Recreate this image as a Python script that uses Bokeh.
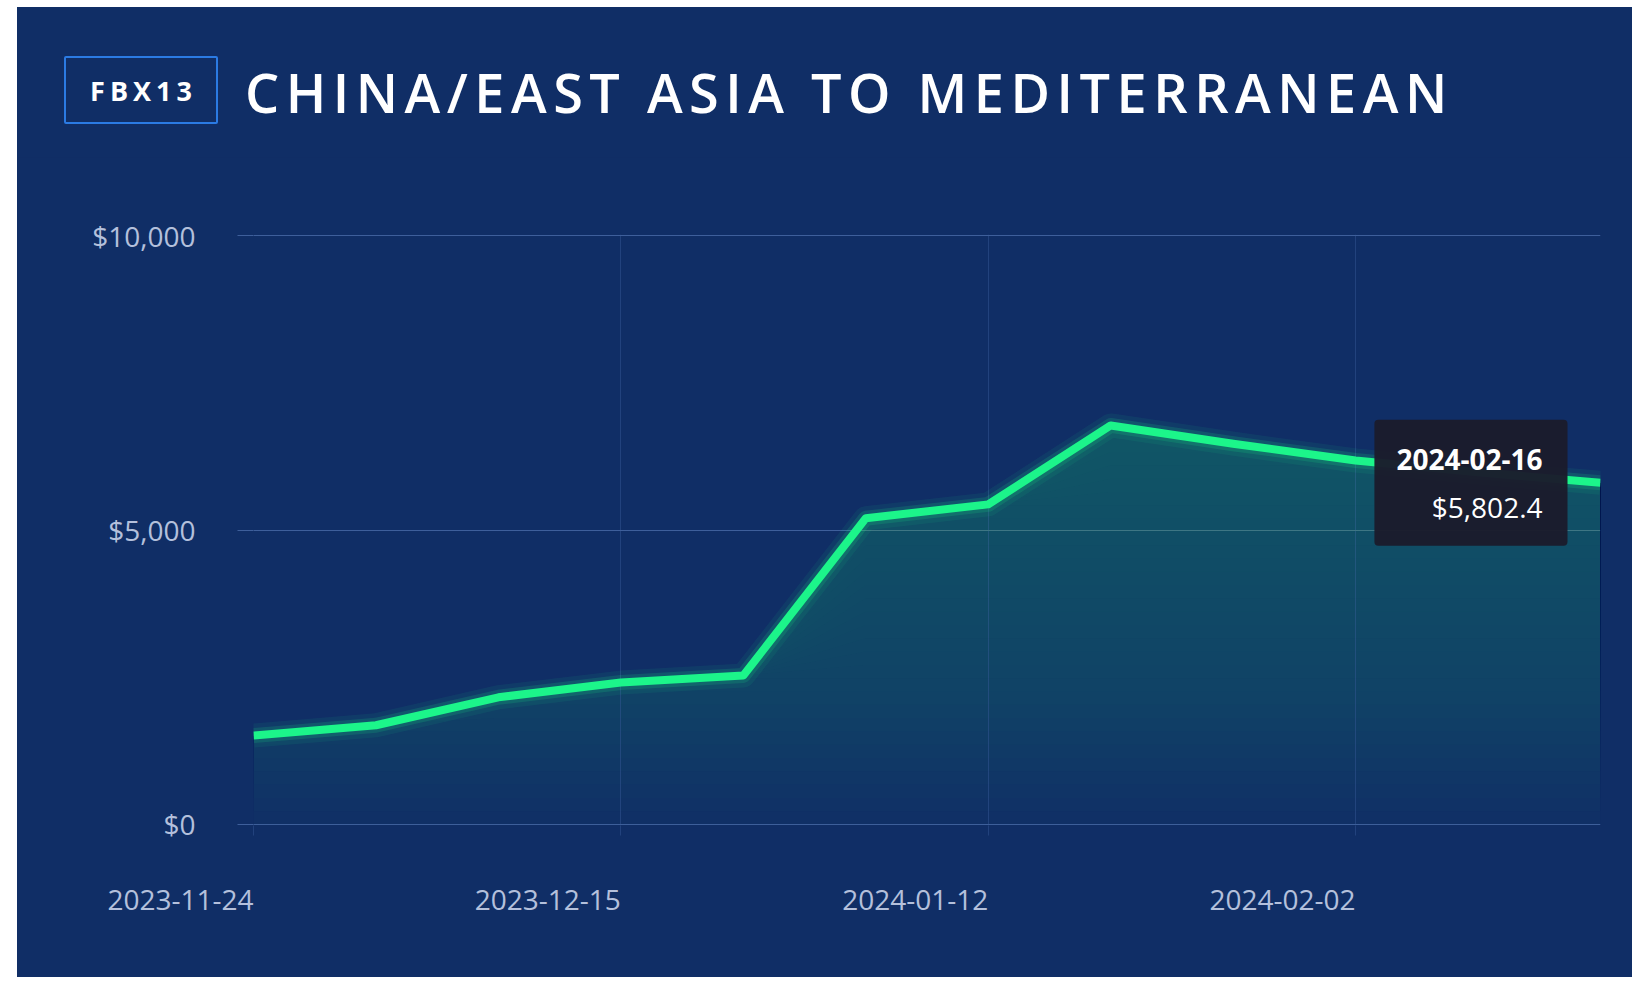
import numpy as np
from bokeh.plotting import figure
from bokeh.models import Range1d, FixedTicker, NumeralTickFormatter, Label, Div
from bokeh.layouts import column
from bokeh.embed import file_html
from bokeh.resources import INLINE

# ---------------- data ----------------
dates = ["2023-11-24", "2023-12-01", "2023-12-08", "2023-12-15", "2023-12-22",
         "2024-01-05", "2024-01-12", "2024-01-19", "2024-01-26", "2024-02-02",
         "2024-02-09", "2024-02-16"]
rates = [1510, 1685, 2160, 2410, 2530, 5200, 5435, 6775, 6465, 6180, 5980, 5802.4]
x_tick_labels = ["2023-11-24", "2023-12-15", "2024-01-12", "2024-02-02"]
y_ticks = [0, 5000, 10000]
index_code = "FBX13"
title_text = "CHINA/EAST ASIA TO MEDITERRANEAN"

# ---------------- style ----------------
NAVY = "#102e66"
GREEN = "#1cf58a"
FILL = "#22b981"
HGRID = "#3e5f9b"
VGRID = "#22427d"
TICK_TXT = "#b4c0dc"
FONT = "Open Sans"
W = 1615
HEAD_H = 150
FIG_H = 820
EDGE_PAD = 17  # one pixel of headroom so the $0 / $10,000 grid lines are not clipped

header_html = f"""
<div style="position:relative;width:{W}px;height:{HEAD_H}px;">
  <div style="position:absolute;left:47px;top:49px;width:145px;height:64px;border:2px solid #2b7be4;
              border-radius:2px;display:flex;align-items:center;justify-content:center;
              font-family:'{FONT}';font-weight:700;font-size:27px;letter-spacing:5px;padding-left:5px;
              box-sizing:content-box;color:#ffffff;line-height:1;">{index_code}</div>
  <div style="position:absolute;left:228px;top:58px;font-family:'{FONT}';font-weight:600;
              font-size:54px;letter-spacing:6.5px;color:#ffffff;line-height:1;white-space:nowrap;">{title_text}</div>
</div>
"""
header = Div(text=header_html, width=W, height=HEAD_H, margin=0,
             styles={"background-color": NAVY})

idx = np.arange(len(dates))
vals = np.array(rates, dtype=float)

p = figure(width=W, height=FIG_H, output_backend="svg", toolbar_location=None,
           x_range=Range1d(idx[0], idx[-1]),
           y_range=Range1d(y_ticks[0] - EDGE_PAD, y_ticks[-1] + EDGE_PAD),
           min_border_left=236, min_border_right=32, min_border_top=77, min_border_bottom=152,
           background_fill_color=NAVY, border_fill_color=NAVY, outline_line_color=None,
           margin=0)

# grid & axes
x_tick_pos = [dates.index(l) for l in x_tick_labels]
p.xaxis.ticker = FixedTicker(ticks=x_tick_pos)
p.yaxis.ticker = FixedTicker(ticks=y_ticks)
p.xgrid.ticker = FixedTicker(ticks=x_tick_pos)
p.ygrid.ticker = FixedTicker(ticks=y_ticks)
p.xgrid.grid_line_color = VGRID
p.ygrid.grid_line_color = HGRID
p.xgrid.grid_line_width = 1
p.ygrid.grid_line_width = 1

p.yaxis.formatter = NumeralTickFormatter(format="$0,0")
p.yaxis.axis_line_color = None
p.yaxis.major_tick_line_color = HGRID
p.yaxis.major_tick_out = 16
p.yaxis.major_tick_in = 0
p.yaxis.minor_tick_line_color = None
p.yaxis.major_label_standoff = 42
p.yaxis.major_label_text_font = FONT
p.yaxis.major_label_text_font_size = "28px"
p.yaxis.major_label_text_color = TICK_TXT

# x labels: right-aligned so that each date ends at its tick
p.xaxis.axis_line_color = None
p.xaxis.major_tick_line_color = VGRID
p.xaxis.major_tick_out = 10
p.xaxis.major_tick_in = 0
p.xaxis.minor_tick_line_color = None
p.xaxis.major_label_overrides = {i: dates[i] for i in x_tick_pos}
p.xaxis.major_label_orientation = 1e-4
p.xaxis.major_label_standoff = 64
p.xaxis.major_label_text_font = FONT
p.xaxis.major_label_text_font_size = "28px"
p.xaxis.major_label_text_color = TICK_TXT

# area fill with vertical fade (stacked translucent layers)
n_layers = 30
top = vals.max()
for k in range(n_layers):
    t = top * k / n_layers
    p.varea(x=idx, y1=np.minimum(vals, t), y2=vals, fill_color=FILL, fill_alpha=0.017)

# glowing line
p.line(idx, vals, line_color=GREEN, line_width=24, line_alpha=0.07, line_join="round")
p.line(idx, vals, line_color=GREEN, line_width=15, line_alpha=0.14, line_join="round")
p.line(idx, vals, line_color=GREEN, line_width=8, line_join="round")

# tooltip at the last point (padding order: left, right, top, bottom)
p.add_layout(Label(x=idx[-1], y=vals[-1], x_offset=-33, y_offset=0, text=dates[-1],
                   text_align="right", text_baseline="middle", text_font=FONT,
                   text_font_style="bold", text_font_size="28px", text_color="#ffffff",
                   background_fill_color="#1b1c2c", background_fill_alpha=0.97,
                   padding=(22, 25, 29, 76), border_radius=4))
p.add_layout(Label(x=idx[-1], y=vals[-1], x_offset=-58, y_offset=-24,
                   text=f"${rates[-1]:,.1f}", text_align="right", text_baseline="middle",
                   text_font=FONT, text_font_size="28px", text_color="#ffffff"))

layout = column(header, p, spacing=0, margin=(7, 0, 0, 17),
                styles={"background-color": NAVY})
open("out.html", "w").write(file_html(layout, INLINE))
